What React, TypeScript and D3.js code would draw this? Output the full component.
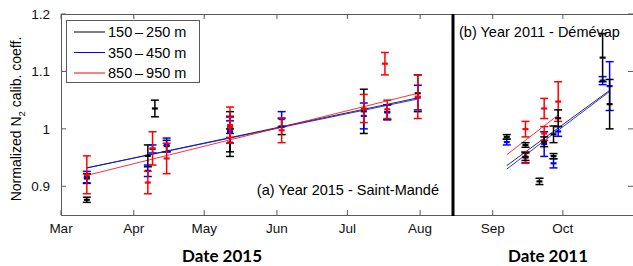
import React from 'react';
import * as d3 from 'd3';

type Bar = [string, number, number];

// panel (a) - 2015, Saint-Mandé: [date, low, high]
const barsA_black: Bar[] = [
  ['2015-03-12', 0.872, 0.881], ['2015-03-12', 0.905, 0.922], ['2015-04-07', 0.934, 0.972],
  ['2015-04-10', 1.021, 1.05], ['2015-04-15', 0.96, 0.98], ['2015-05-12', 0.952, 1.0],
  ['2015-05-12', 0.96, 1.03], ['2015-06-03', 0.99, 1.018], ['2015-07-08', 0.992, 1.069],
  ['2015-07-18', 1.016, 1.042], ['2015-07-31', 1.03, 1.094],
];
const barsA_blue: Bar[] = [
  ['2015-03-12', 0.906, 0.926], ['2015-04-07', 0.917, 0.937], ['2015-04-09', 0.958, 0.972],
  ['2015-04-15', 0.96, 0.984], ['2015-05-12', 0.992, 1.014], ['2015-05-12', 0.975, 1.022],
  ['2015-06-03', 1.004, 1.03], ['2015-07-08', 1.0, 1.045], ['2015-07-18', 1.016, 1.042],
  ['2015-07-31', 1.033, 1.076],
];
const barsA_red: Bar[] = [
  ['2015-03-12', 0.887, 0.953], ['2015-04-07', 0.887, 0.926], ['2015-04-09', 0.937, 0.995],
  ['2015-04-15', 0.922, 0.975], ['2015-05-12', 0.975, 1.038], ['2015-05-12', 0.985, 1.02],
  ['2015-06-03', 0.976, 1.019], ['2015-07-08', 1.011, 1.06], ['2015-07-17', 1.094, 1.133],
  ['2015-07-18', 1.018, 1.05], ['2015-07-31', 1.018, 1.094],
];

// panel (b) - 2011, Démévap
const barsB_black: Bar[] = [
  ['2011-09-07', 0.982, 0.99], ['2011-09-15', 0.968, 0.976], ['2011-09-15', 0.945, 0.958],
  ['2011-09-21', 0.903, 0.914], ['2011-09-23', 0.969, 0.986], ['2011-09-27', 0.976, 1.005],
  ['2011-09-27', 0.948, 0.957], ['2011-09-29', 1.004, 1.033], ['2011-10-18', 1.082, 1.166],
  ['2011-10-21', 1.0, 1.086],
];
const barsB_blue: Bar[] = [
  ['2011-09-07', 0.972, 0.982], ['2011-09-15', 0.941, 0.96], ['2011-09-23', 0.952, 0.995],
  ['2011-09-27', 0.932, 0.948], ['2011-09-29', 0.987, 1.004], ['2011-10-18', 1.077, 1.091],
  ['2011-10-21', 1.032, 1.117],
];
const barsB_red: Bar[] = [
  ['2011-09-15', 0.986, 1.013], ['2011-09-15', 0.94, 0.96], ['2011-09-23', 1.018, 1.053],
  ['2011-09-23', 0.98, 1.004], ['2011-09-29', 1.013, 1.082],
];

// linear fits: start and end points
const fitsA = [
  { color: 'black', pts: [['2015-03-12', 0.932], ['2015-07-31', 1.054]] },
  { color: 'blue', pts: [['2015-03-12', 0.932], ['2015-07-31', 1.052]] },
  { color: 'red', pts: [['2015-03-12', 0.919], ['2015-07-31', 1.062]] },
];
const fitsB = [
  { color: 'black', pts: [['2011-09-07', 0.936], ['2011-10-21', 1.067]] },
  { color: 'blue', pts: [['2011-09-07', 0.93], ['2011-10-21', 1.065]] },
  { color: 'red', pts: [['2011-09-07', 0.955], ['2011-09-29', 1.024]] },
];

const yTicks = [0.9, 1, 1.1, 1.2];
const monthsA = ['2015-03-01', '2015-04-01', '2015-05-01', '2015-06-01', '2015-07-01', '2015-08-01'];
const monthsB = ['2011-09-01', '2011-10-01'];
const legendItems = [
  { label: '150\u2009\u2013\u2009250 m', color: 'black' },
  { label: '350\u2009\u2013\u2009450 m', color: 'blue' },
  { label: '850\u2009\u2013\u2009950 m', color: 'red' },
];

const parse = (s: string) => new Date(s + 'T00:00:00Z');
const fmt = d3.utcFormat('%b');

const top = 14, bottom = 215, left = 61, split = 453, right = 633;
const y = d3.scaleLinear().domain([0.85, 1.2]).range([bottom, top]);
const xA = d3.scaleUtc().domain([parse('2015-03-01'), parse('2015-08-15')]).range([left, split]);
const xB = d3.scaleUtc().domain([parse('2011-08-15'), parse('2011-10-31')]).range([split, right]);

const axisColor = '#5a5a5a';
const font = '"Liberation Sans", Arial, sans-serif';

function ErrorBars({ bars, x, color }: { bars: Bar[]; x: any; color: string }) {
  return (
    <g stroke={color} strokeWidth={1.5} fill="none">
      {bars.map(([d, lo, hi], i) => {
        const cx = x(parse(d));
        const mid = (lo + hi) / 2;
        return (
          <g key={i}>
            <line x1={cx} x2={cx} y1={y(lo)} y2={y(hi)} />
            <line x1={cx - 4} x2={cx + 4} y1={y(lo)} y2={y(lo)} />
            <line x1={cx - 4} x2={cx + 4} y1={y(hi)} y2={y(hi)} />
            <line x1={cx - 3} x2={cx + 3} y1={y(mid)} y2={y(mid)} strokeWidth={2.2} />
          </g>
        );
      })}
    </g>
  );
}

function Fits({ fits, x }: { fits: any[]; x: any }) {
  const line = d3.line<any>().x(p => x(parse(p[0]))).y(p => y(p[1]));
  return (
    <g fill="none" strokeWidth={1}>
      {fits.map((f, i) => <path key={i} d={line(f.pts) || ''} stroke={f.color} strokeOpacity={0.8} />)}
    </g>
  );
}

export default function App() {
  return (
    <svg width={633} height={266} style={{ position: 'absolute', left: 0, top: 0, background: 'white' }}
      fontFamily={font}>
      <defs>
        <clipPath id="clipA"><rect x={left} y={top} width={split - left} height={bottom - top} /></clipPath>
        <clipPath id="clipB"><rect x={split} y={top} width={right - split} height={bottom - top} /></clipPath>
      </defs>

      {/* frame */}
      <g stroke={axisColor} strokeWidth={1} fill="none">
        <line x1={left} x2={right} y1={top + 0.5} y2={top + 0.5} />
        <line x1={left} x2={right} y1={bottom + 0.5} y2={bottom + 0.5} />
        <line x1={left + 0.5} x2={left + 0.5} y1={top} y2={bottom} />
        {yTicks.map(t => (
          <g key={t}>
            <line x1={left} x2={left + 5} y1={y(t)} y2={y(t)} />
            <line x1={right - 5} x2={right} y1={y(t)} y2={y(t)} />
          </g>
        ))}
        {monthsA.map(m => (
          <g key={m}>
            <line x1={xA(parse(m))} x2={xA(parse(m))} y1={top} y2={top + 5} />
            <line x1={xA(parse(m))} x2={xA(parse(m))} y1={bottom} y2={bottom - 5} />
          </g>
        ))}
        {monthsB.map(m => (
          <g key={m}>
            <line x1={xB(parse(m))} x2={xB(parse(m))} y1={top} y2={top + 5} />
            <line x1={xB(parse(m))} x2={xB(parse(m))} y1={bottom} y2={bottom - 5} />
          </g>
        ))}
      </g>

      {/* tick labels */}
      <g fontSize={13.5} fill="#111">
        {yTicks.map(t => (
          <text key={t} x={50} y={y(t)} dy="0.35em" textAnchor="end">{d3.format('.1f')(t).replace('1.0', '1')}</text>
        ))}
        {monthsA.map(m => (
          <text key={m} x={xA(parse(m))} y={233} textAnchor="middle">{fmt(parse(m))}</text>
        ))}
        {monthsB.map(m => (
          <text key={m} x={xB(parse(m))} y={233} textAnchor="middle">{fmt(parse(m))}</text>
        ))}
      </g>

      {/* data */}
      <g clipPath="url(#clipA)">
        <Fits fits={fitsA} x={xA} />
        <ErrorBars bars={barsA_black} x={xA} color="black" />
        <ErrorBars bars={barsA_blue} x={xA} color="blue" />
        <ErrorBars bars={barsA_red} x={xA} color="red" />
      </g>
      <g clipPath="url(#clipB)">
        <Fits fits={fitsB} x={xB} />
        <ErrorBars bars={barsB_blue} x={xB} color="blue" />
        <ErrorBars bars={barsB_red} x={xB} color="red" />
        <ErrorBars bars={barsB_black} x={xB} color="black" />
      </g>

      {/* panel separator */}
      <line x1={split} x2={split} y1={top} y2={bottom + 1} stroke="black" strokeWidth={3} />

      {/* legend */}
      <g>
        <rect x={66.5} y={20.5} width={133} height={62} fill="white" stroke={axisColor} />
        {legendItems.map((it, i) => (
          <g key={it.label}>
            <line x1={74} x2={105} y1={32 + i * 20.5} y2={32 + i * 20.5} stroke={it.color} strokeWidth={1} />
            <text x={108} y={32 + i * 20.5} dy="0.36em" fontSize={14.5}>{it.label}</text>
          </g>
        ))}
      </g>

      {/* annotations */}
      <text x={439} y={195} textAnchor="end" fontSize={14.5}>(a) Year 2015 - Saint-Mandé</text>
      <text x={459} y={37} fontSize={14.5}>(b) Year 2011 - Démévap</text>

      {/* axis titles */}
      <text transform="translate(21,119) rotate(-90)" textAnchor="middle" fontSize={14}>
        Normalized N<tspan fontSize={9.5} dy={4}>2</tspan><tspan dy={-4}> calib. coeff.</tspan>
      </text>
      <g fontFamily='Lato, "Open Sans", sans-serif' fontWeight="bold" fontSize={17} textAnchor="middle">
        <text x={222} y={262}>Date 2015</text>
        <text x={548} y={262}>Date 2011</text>
      </g>
    </svg>
  );
}
